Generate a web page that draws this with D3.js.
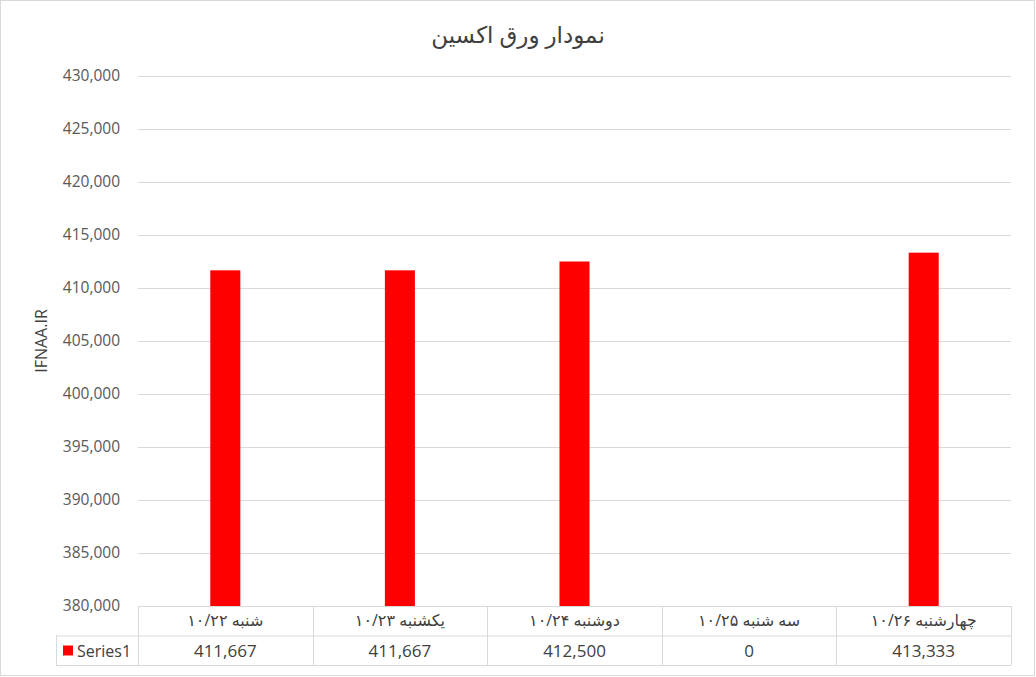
<!DOCTYPE html>
<html>
<head>
<meta charset="utf-8">
<script src="https://cdn.jsdelivr.net/npm/d3@7"></script>
<style>
  body { margin: 0; background: #fff; }
  text { font-family: "Open Sans", "DejaVu Sans", sans-serif; }
</style>
</head>
<body>
<div id="chart"></div>
<script>
// data
const categories = ["شنبه ۱۰/۲۲", "یکشنبه ۱۰/۲۳", "دوشنبه ۱۰/۲۴", "سه شنبه ۱۰/۲۵", "چهارشنبه ۱۰/۲۶"];
const values = [411667, 411667, 412500, 0, 413333];
const seriesName = "Series1";
const yTicks = [380000, 385000, 390000, 395000, 400000, 405000, 410000, 415000, 420000, 425000, 430000];
const title = "نمودار ورق اکسین";
const yLabel = "IFNAA.IR";

const width = 1036, height = 677;
const plot = { left: 138, right: 1011, top: 76, bottom: 606 };
const rowH = 29.5;
const gridColor = "#d9d9d9";

const svg = d3.select("#chart")
    .append("svg")
    .attr("width", width)
    .attr("height", height);

// outer border
svg.append("rect")
    .attr("x", 0.5).attr("y", 0.5)
    .attr("width", width - 2).attr("height", height - 2)
    .attr("fill", "#fff")
    .attr("stroke", gridColor);

// title
svg.append("text")
    .attr("x", width / 2)
    .attr("y", 43)
    .attr("text-anchor", "middle")
    .attr("font-size", 23)
    .attr("font-family", "'DejaVu Sans', sans-serif")
    .attr("fill", "#404040")
    .text(title);

const x = d3.scaleBand()
    .domain(categories)
    .range([plot.left, plot.right])
    .padding(0);

const y = d3.scaleLinear()
    .domain([yTicks[0], yTicks[yTicks.length - 1]])
    .range([plot.bottom, plot.top]);

// gridlines + y labels
const yAxis = d3.axisLeft(y)
    .tickValues(yTicks)
    .tickSize(-(plot.right - plot.left))
    .tickPadding(18)
    .tickFormat(d3.format(","));
const gy = svg.append("g")
    .attr("transform", `translate(${plot.left},0)`)
    .call(yAxis);
gy.select(".domain").remove();
gy.selectAll(".tick line").attr("stroke", gridColor);
gy.selectAll(".tick text")
    .attr("font-size", 15.5)
    .attr("fill", "#595959")
    .attr("font-family", "'Open Sans', sans-serif");

// y axis title
svg.append("text")
    .attr("transform", `translate(47,${(plot.top + plot.bottom) / 2}) rotate(-90)`)
    .attr("text-anchor", "middle")
    .attr("font-size", 16)
    .attr("fill", "#404040")
    .text(yLabel);

// bars
svg.append("clipPath").attr("id", "plotclip")
    .append("rect")
    .attr("x", plot.left).attr("y", plot.top)
    .attr("width", plot.right - plot.left).attr("height", plot.bottom - plot.top);

const barW = x.bandwidth() * 0.172;
svg.append("g")
    .attr("clip-path", "url(#plotclip)")
    .selectAll("rect")
    .data(values)
    .join("rect")
    .attr("x", (d, i) => x(categories[i]) + x.bandwidth() / 2 - barW / 2)
    .attr("y", d => Math.min(y(d), plot.bottom))
    .attr("width", barW)
    .attr("height", d => Math.max(0, plot.bottom - y(d)))
    .attr("fill", "#ff0000");

// data table
const table = svg.append("g").attr("stroke", gridColor).attr("fill", "none");
const t0 = plot.bottom, t1 = plot.bottom + rowH, t2 = plot.bottom + rowH * 2;
const legendLeft = 56;
table.append("line").attr("x1", plot.left).attr("x2", plot.right).attr("y1", t0 + 0.5).attr("y2", t0 + 0.5);
table.append("line").attr("x1", legendLeft).attr("x2", plot.right).attr("y1", t1 + 0.5).attr("y2", t1 + 0.5);
table.append("line").attr("x1", legendLeft).attr("x2", plot.right).attr("y1", t2 + 0.5).attr("y2", t2 + 0.5);
table.append("line").attr("x1", legendLeft + 0.5).attr("x2", legendLeft + 0.5).attr("y1", t1).attr("y2", t2);
categories.forEach(c => {
    table.append("line")
        .attr("x1", Math.round(x(c)) + 0.5).attr("x2", Math.round(x(c)) + 0.5)
        .attr("y1", t0).attr("y2", t2);
});
table.append("line")
    .attr("x1", plot.right + 0.5).attr("x2", plot.right + 0.5)
    .attr("y1", t0).attr("y2", t2);

svg.append("g").selectAll("text.cat")
    .data(categories)
    .join("text")
    .attr("x", d => x(d) + x.bandwidth() / 2)
    .attr("y", t0 + 20)
    .attr("text-anchor", "middle")
    .attr("font-size", 16)
    .attr("fill", "#404040")
    .attr("font-family", "'DejaVu Sans', sans-serif")
    .text(d => d);

svg.append("g").selectAll("text.val")
    .data(values)
    .join("text")
    .attr("x", (d, i) => x(categories[i]) + x.bandwidth() / 2)
    .attr("y", t1 + 21)
    .attr("text-anchor", "middle")
    .attr("font-size", 17)
    .attr("fill", "#404040")
    .text(d => d3.format(",")(d));

// legend key in table
svg.append("rect")
    .attr("x", 63).attr("y", t1 + 10)
    .attr("width", 10).attr("height", 10)
    .attr("fill", "#ff0000");
svg.append("text")
    .attr("x", 77).attr("y", t1 + 21)
    .attr("font-size", 16)
    .attr("fill", "#404040")
    .text(seriesName);
</script>
</body>
</html>
